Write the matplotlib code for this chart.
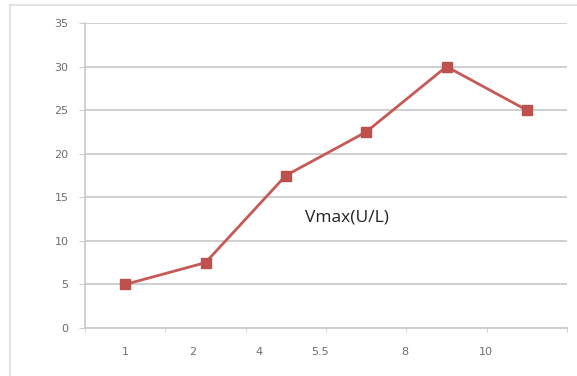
import matplotlib.pyplot as plt
from matplotlib.lines import Line2D

# Vmax at each measured point
vmax = [5, 7.5, 17.5, 22.5, 30, 25]
tick_labels = ['1', '2', '4', '5.5', '8', '10']
# where the labels sit along the category axis
label_pos = [0, 0.84, 1.66, 2.42, 3.48, 4.49]

fig = plt.figure(figsize=(5.77, 3.76), dpi=100)
ax = fig.add_axes([85 / 577, 1 - 328 / 376, 482 / 577, 305 / 376])

x = list(range(len(vmax)))
ax.plot(x, vmax, color='#c55a57', lw=2, marker='s', ms=7.5,
        markerfacecolor='#c0504d', markeredgecolor='#b8504d', zorder=3)

ax.set_xlim(-0.5, len(vmax) - 0.5)
ax.set_ylim(0, 35)
ax.set_yticks(range(0, 40, 5))
ax.yaxis.grid(True, color='#cccccc', lw=1.3)
ax.set_axisbelow(True)

ax.set_xticks(label_pos)
ax.set_xticklabels(tick_labels)
ax.set_xticks([i + 0.5 for i in range(-1, len(vmax))], minor=True)
ax.tick_params(axis='x', which='major', length=0, pad=14, labelsize=8,
               labelcolor='#6e6e6e')
ax.tick_params(axis='x', which='minor', length=3, color='#cccccc',
               direction='out')
ax.tick_params(axis='y', length=4, color='#cccccc', pad=8, labelsize=8,
               labelcolor='#6e6e6e')

for s in ['top', 'right']:
    ax.spines[s].set_visible(False)
for s in ['left', 'bottom']:
    ax.spines[s].set_color('#cccccc')
    ax.spines[s].set_linewidth(1.3)

ax.text(305 / 577, 1 - 218 / 376, 'Vmax(U/L)', transform=fig.transFigure,
        fontsize=12.5, color='#222222', va='center', ha='left',
        family='Open Sans')

# chart area frame
fig.add_artist(Line2D([10 / 577, 1], [1 - 5 / 376] * 2, color='#e3e3e3',
                      lw=1.5, transform=fig.transFigure))
fig.add_artist(Line2D([10 / 577] * 2, [0, 1 - 5 / 376], color='#e3e3e3',
                      lw=1.5, transform=fig.transFigure))

fig.savefig('out.png', dpi=100)
